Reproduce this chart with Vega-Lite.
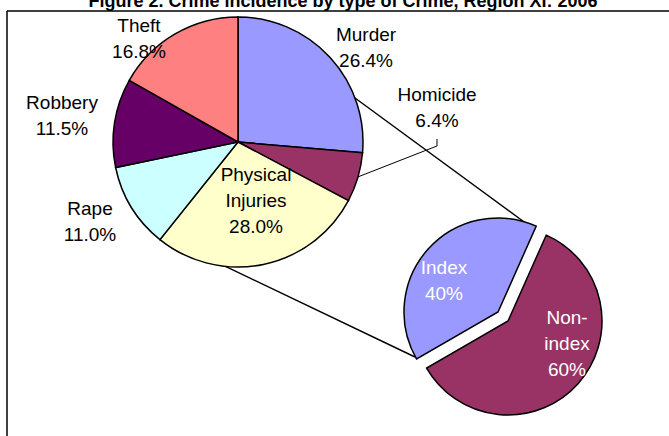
{
  "$schema": "https://vega.github.io/schema/vega-lite/v6.json",
  "width": 669,
  "height": 436,
  "padding": 0,
  "autosize": "none",
  "config": {"view": {"stroke": null}, "font": "Liberation Sans"},
  "datasets": {
    "crime": [
      {"category": "Murder", "pct": 26.4, "idx": 1},
      {"category": "Homicide", "pct": 6.4, "idx": 2},
      {"category": "Physical Injuries", "pct": 28.0, "idx": 3},
      {"category": "Rape", "pct": 11.0, "idx": 4},
      {"category": "Robbery", "pct": 11.5, "idx": 5},
      {"category": "Theft", "pct": 16.8, "idx": 6}
    ],
    "split": [
      {"category": "Index", "pct": 40, "idx": 1},
      {"category": "Non-index", "pct": 60, "idx": 2}
    ],
    "connectors": [
      {"x": 340, "y": 87, "x2": 535, "y2": 230},
      {"x": 187, "y": 248, "x2": 415, "y2": 357}
    ],
    "leader": [
      {"x": 350, "y": 180, "x2": 437, "y2": 146},
      {"x": 437, "y": 146, "x2": 437, "y2": 139}
    ],
    "frame": [
      {"x": 7, "y": 11, "x2": 7, "y2": 436},
      {"x": 7, "y": 11, "x2": 669, "y2": 11}
    ],
    "labels_main": [
      {"label": "Theft\n16.8%", "x": 139, "y": 26},
      {"label": "Murder\n26.4%", "x": 366, "y": 35},
      {"label": "Homicide\n6.4%", "x": 437, "y": 95},
      {"label": "Robbery\n11.5%", "x": 62, "y": 103},
      {"label": "Rape\n11.0%", "x": 90, "y": 209},
      {"label": "Physical\nInjuries\n28.0%", "x": 256, "y": 175}
    ],
    "labels_sub": [
      {"label": "Index\n40%", "x": 444, "y": 268},
      {"label": "Non-\nindex\n60%", "x": 567, "y": 318}
    ],
    "title": [
      {"label": "Figure 2. Crime incidence by type of Crime, Region XI: 2006", "x": 343, "y": 7}
    ]
  },
  "resolve": {"scale": {"theta": "independent"}},
  "layer": [
    {
      "data": {"name": "connectors"},
      "mark": {"type": "rule", "color": "black", "strokeWidth": 1.4},
      "encoding": {
        "x": {"field": "x", "type": "quantitative", "scale": {"domain": [0, 669], "nice": false, "zero": false}, "axis": null},
        "y": {"field": "y", "type": "quantitative", "scale": {"domain": [0, 436], "nice": false, "zero": false, "reverse": true}, "axis": null},
        "x2": {"field": "x2"},
        "y2": {"field": "y2"}
      }
    },
    {
      "data": {"name": "leader"},
      "mark": {"type": "rule", "color": "black", "strokeWidth": 1},
      "encoding": {
        "x": {"field": "x", "type": "quantitative", "axis": null},
        "y": {"field": "y", "type": "quantitative", "axis": null},
        "x2": {"field": "x2"},
        "y2": {"field": "y2"}
      }
    },
    {
      "data": {"name": "crime"},
      "mark": {"type": "arc", "radius": 125, "stroke": "black", "strokeWidth": 1.5},
      "encoding": {
        "x": {"datum": 238, "type": "quantitative"},
        "y": {"datum": 142, "type": "quantitative"},
        "theta": {"field": "pct", "type": "quantitative", "stack": true},
        "order": {"field": "idx", "type": "quantitative"},
        "color": {
          "field": "category", "type": "nominal", "legend": null,
          "scale": {
            "domain": ["Murder", "Homicide", "Physical Injuries", "Rape", "Robbery", "Theft", "Index", "Non-index"],
            "range": ["#9999FF", "#993366", "#FFFFCC", "#CCFFFF", "#660066", "#FF8080", "#9999FF", "#993366"]
          }
        }
      }
    },
    {
      "data": {"name": "split"},
      "mark": {"type": "arc", "radius": 94, "stroke": "black", "strokeWidth": 1.5},
      "encoding": {
        "x": {"datum": 498, "type": "quantitative"},
        "y": {"datum": 312, "type": "quantitative"},
        "theta": {"field": "pct", "type": "quantitative", "stack": true, "scale": {"range": [4.18879, 10.47198]}},
        "order": {"field": "idx", "type": "quantitative"},
        "color": {"field": "category", "type": "nominal", "legend": null},
        "opacity": {"condition": {"test": "datum.category === 'Index'", "value": 1}, "value": 0}
      }
    },
    {
      "data": {"name": "split"},
      "mark": {"type": "arc", "radius": 94, "stroke": "black", "strokeWidth": 1.5},
      "encoding": {
        "x": {"datum": 508, "type": "quantitative"},
        "y": {"datum": 321, "type": "quantitative"},
        "theta": {"field": "pct", "type": "quantitative", "stack": true, "scale": {"range": [4.18879, 10.47198]}},
        "order": {"field": "idx", "type": "quantitative"},
        "color": {"field": "category", "type": "nominal", "legend": null},
        "opacity": {"condition": {"test": "datum.category === 'Non-index'", "value": 1}, "value": 0}
      }
    },
    {
      "data": {"name": "labels_main"},
      "mark": {"type": "text", "fontSize": 19, "lineBreak": "\n", "lineHeight": 26, "align": "center", "baseline": "middle", "color": "black"},
      "encoding": {
        "x": {"field": "x", "type": "quantitative"},
        "y": {"field": "y", "type": "quantitative"},
        "text": {"field": "label"}
      }
    },
    {
      "data": {"name": "labels_sub"},
      "mark": {"type": "text", "fontSize": 19, "lineBreak": "\n", "lineHeight": 26, "align": "center", "baseline": "middle", "color": "white"},
      "encoding": {
        "x": {"field": "x", "type": "quantitative"},
        "y": {"field": "y", "type": "quantitative"},
        "text": {"field": "label"}
      }
    },
    {
      "data": {"name": "title"},
      "mark": {"type": "text", "fontSize": 18, "fontWeight": "bold", "align": "center", "baseline": "alphabetic", "color": "black"},
      "encoding": {
        "x": {"field": "x", "type": "quantitative"},
        "y": {"field": "y", "type": "quantitative"},
        "text": {"field": "label"}
      }
    },
    {
      "data": {"name": "frame"},
      "mark": {"type": "rule", "color": "black", "strokeWidth": 1.5},
      "encoding": {
        "x": {"field": "x", "type": "quantitative"},
        "y": {"field": "y", "type": "quantitative"},
        "x2": {"field": "x2"},
        "y2": {"field": "y2"}
      }
    }
  ]
}
